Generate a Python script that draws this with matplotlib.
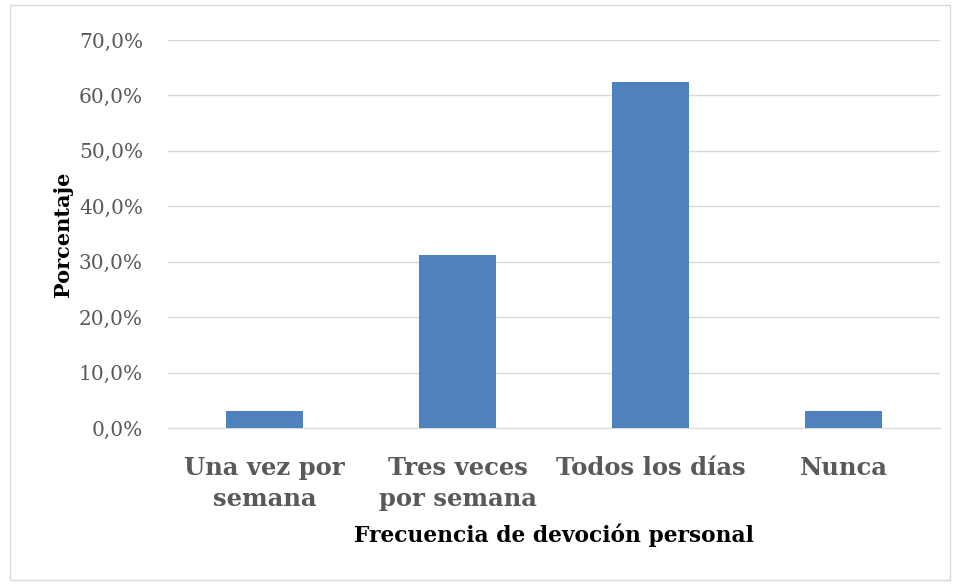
import matplotlib
matplotlib.use("Agg")
import matplotlib.pyplot as plt
from matplotlib.patches import Rectangle

categories = ["Una vez por\nsemana", "Tres veces\npor semana", "Todos los días", "Nunca"]
values = [3.1, 31.3, 62.5, 3.1]
yticks = [0, 10, 20, 30, 40, 50, 60, 70]
ytick_labels = ["0,0%", "10,0%", "20,0%", "30,0%", "40,0%", "50,0%", "60,0%", "70,0%"]

plt.rcParams['font.family'] = ['DejaVu Serif']

fig = plt.figure(figsize=(9.58, 5.85), dpi=100)
ax = fig.add_axes([168/958, 1-428/585, (940-168)/958, (428-40)/585])

x = range(len(categories))
ax.bar(x, values, width=0.4, color="#4f81bd", zorder=3)
ax.set_xlim(-0.5, len(categories)-0.5)
ax.set_ylim(0, 70)
ax.set_yticks(yticks)
ax.set_yticklabels(ytick_labels, fontsize=14.5, color="#595959")
ax.set_xticks(list(x))
ax.set_xticklabels(categories, fontsize=17.5, fontweight="bold", color="#595959", linespacing=1.4)
ax.tick_params(axis='y', length=0, pad=18)
ax.tick_params(axis='x', length=0, pad=20)
ax.grid(axis='y', color="#d9d9d9", linewidth=1, zorder=0)
for s in ["top", "right", "left"]:
    ax.spines[s].set_visible(False)
ax.spines["bottom"].set_color("#d9d9d9")
ax.set_ylabel("Porcentaje", fontsize=15, fontweight="bold", color="black", labelpad=4)
ax.set_xlabel("Frecuencia de devoción personal", fontsize=15.7, fontweight="bold", color="black", labelpad=9)

fig.patches.append(Rectangle((10/958, 5/585), 940/958, 575/585, transform=fig.transFigure,
                             fill=False, edgecolor="#d9d9d9", linewidth=1))

fig.savefig("out.png", dpi=100)
